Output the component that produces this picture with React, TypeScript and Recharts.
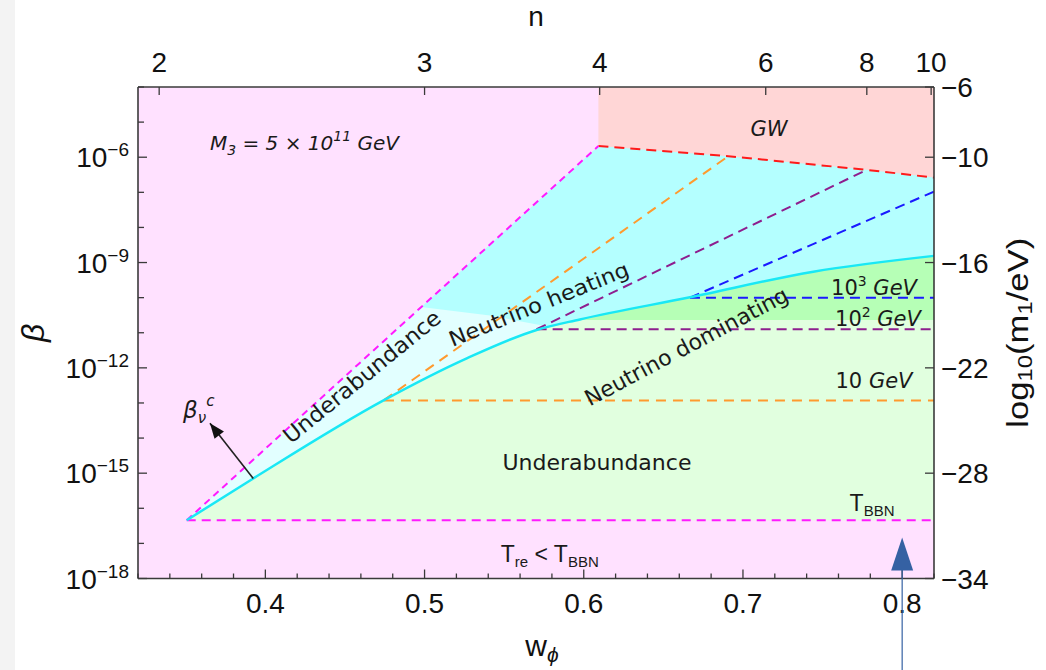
import React from 'react';
import { ComposedChart, Area, Line, XAxis, YAxis, ReferenceDot } from 'recharts';

// ---------- axis ticks ----------
const wMajorTicks = [0.4, 0.5, 0.6, 0.7, 0.8];
const wAllTicks = [0.32, 0.34, 0.36, 0.38, 0.4, 0.42, 0.44, 0.46, 0.48, 0.5, 0.52, 0.54, 0.56, 0.58, 0.6, 0.62, 0.64, 0.66, 0.68, 0.7, 0.72, 0.74, 0.76, 0.78, 0.8, 0.82];
const nLabels = ['2', '3', '4', '6', '8', '10'];
const nTickW = [0.3333, 0.5, 0.61, 0.7143, 0.7778, 0.8182];
const betaAllTicks = [-18, -17, -16, -15, -14, -13, -12, -11, -10, -9, -8, -7, -6, -5, -4];
const betaMajorTicks = [-18, -15, -12, -9, -6];
const m1Ticks = [-34, -28, -22, -16, -10, -6];

// ---------- regions & curves (w, log10 beta) ----------
const frameTop = [{ w: 0.32, L: -4 }, { w: 0.82, L: -4 }];
const gwRegion = [{ w: 0.6092, L: -4 }, { w: 0.82, L: -4 }];
const magentaDiag = [{ w: 0.3506, L: -16.34 }, { w: 0.6092, L: -5.68 }];
const gwBoundary = [{ w: 0.6092, L: -5.68 }, { w: 0.6908, L: -5.97 }, { w: 0.7777, L: -6.36 }, { w: 0.82, L: -6.58 }];
const cyanEnvelope = [...magentaDiag, ...gwBoundary.slice(1)];
const cyanCurve = [
  { w: 0.3506, L: -16.34 }, { w: 0.3924, L: -15.15 }, { w: 0.4745, L: -12.92 }, { w: 0.5265, L: -11.73 },
  { w: 0.5704, L: -10.92 }, { w: 0.5976, L: -10.62 }, { w: 0.6667, L: -9.99 }, { w: 0.7442, L: -9.26 },
  { w: 0.82, L: -8.81 },
];
const paleUpper = [{ w: 0.3506, L: -16.34 }, { w: 0.4978, L: -10.27 }, { w: 0.5411, L: -10.51 }, { w: 0.5757, L: -10.81 }];
const lightGreenUpper = [...cyanCurve.slice(0, 5), { w: 0.5976, L: -10.64 }, { w: 0.82, L: -10.64 }];
const belowTbbn = [{ w: 0.32, L: -16.34 }, { w: 0.82, L: -16.34 }];
const tbbnLine = [{ w: 0.3506, L: -16.34 }, { w: 0.82, L: -16.34 }];
const orangeDiag = [{ w: 0.4745, L: -12.92 }, { w: 0.6908, L: -5.97 }];
const orangeFlat = [{ w: 0.4745, L: -12.93 }, { w: 0.82, L: -12.93 }];
const purpleDiag = [{ w: 0.5704, L: -10.9 }, { w: 0.7777, L: -6.36 }];
const purpleFlat = [{ w: 0.5704, L: -10.9 }, { w: 0.82, L: -10.9 }];
const blueDiag = [{ w: 0.6667, L: -10.0 }, { w: 0.82, L: -6.98 }];
const blueFlat = [{ w: 0.6667, L: -10.0 }, { w: 0.82, L: -10.0 }];
const betaNuArrow = [{ w: 0.3924, L: -15.15 }, { w: 0.3652, L: -13.58 }];

// ---------- styles ----------
const TICK_FONT = "'Liberation Sans', Arial, sans-serif";
const NOTE_FONT = "'DejaVu Sans', sans-serif";
const FRAME = '#3a3a3a';
const INK = '#1a1a1a';

const near = (a: number, b: number) => Math.abs(a - b) < 1e-6;

function LeftTick(props: any) {
  const { x, y, payload } = props;
  const v = Number(payload.value);
  const major = betaMajorTicks.includes(v);
  return (
    <g>
      <line x1={x} y1={y} x2={x + (major ? 9 : 6)} y2={y} stroke={FRAME} strokeWidth={1.3} />
      {major && (
        <text x={x - 9} y={y + 10} textAnchor="end" fontFamily={TICK_FONT} fontSize={28} fill="#111">
          10<tspan dy={-11} fontSize={19}>{'\u2212' + Math.abs(v)}</tspan>
        </text>
      )}
    </g>
  );
}

function RightTick(props: any) {
  const { x, y, payload } = props;
  const v = Number(payload.value);
  return (
    <g>
      <line x1={x} y1={y} x2={x - 9} y2={y} stroke={FRAME} strokeWidth={1.3} />
      <text x={x + 7} y={y + 10} textAnchor="start" fontFamily={TICK_FONT} fontSize={28} fill="#111">
        {'\u2212' + Math.abs(v)}
      </text>
    </g>
  );
}

function BottomTick(props: any) {
  const { x, y, payload } = props;
  const v = Number(payload.value);
  const major = wMajorTicks.some((t) => near(t, v));
  return (
    <g>
      <line x1={x} y1={y} x2={x} y2={y - (major ? 9 : 5)} stroke={FRAME} strokeWidth={1.3} />
      {major && (
        <text x={x} y={y + 34} textAnchor="middle" fontFamily={TICK_FONT} fontSize={28} fill="#111">
          {v.toFixed(1)}
        </text>
      )}
      {near(v, 0.8) && (
        <g>
          <line x1={x} y1={y - 9} x2={x} y2={y + 95} stroke="#3561A3" strokeWidth={1.2} />
          <path d={`M${x},${y - 41} L${x + 11},${y - 8} L${x - 11},${y - 8} Z`} fill="#3561A3" />
        </g>
      )}
    </g>
  );
}

function TopTick(props: any) {
  const { x, y, payload } = props;
  const v = Number(payload.value);
  const idx = nTickW.findIndex((t) => near(t, v));
  return (
    <g>
      <line x1={x} y1={y} x2={x} y2={y + 8} stroke={FRAME} strokeWidth={1.3} />
      <text x={x} y={y - 15} textAnchor="middle" fontFamily={TICK_FONT} fontSize={28} fill="#111">
        {idx >= 0 ? nLabels[idx] : ''}
      </text>
    </g>
  );
}

const arrowDot = (color: string, len: number, half: number) => (props: any) => {
  const { index, cx, cy, points } = props;
  if (index !== 1 || !points || points.length < 2) return <g key={`ad-${index}`} />;
  const p0 = points[0];
  const ang = Math.atan2(cy - p0.y, cx - p0.x);
  const bx = cx - len * Math.cos(ang);
  const by = cy - len * Math.sin(ang);
  const nx = -Math.sin(ang) * half;
  const ny = Math.cos(ang) * half;
  return <path key={`ad-${index}`} d={`M${cx},${cy} L${bx + nx},${by + ny} L${bx - nx},${by - ny} Z`} fill={color} />;
};

const note = (key: string, w: number, L: number, render: (cx: number, cy: number) => React.ReactElement) => (
  <ReferenceDot
    key={key}
    xAxisId="bottom"
    yAxisId="left"
    x={w}
    y={L}
    r={0}
    ifOverflow="visible"
    shape={(p: any) => render(p.cx, p.cy)}
  />
);

const fillArea = (key: string, data: any[], color: string, type: 'linear' | 'monotone' = 'linear') => (
  <Area
    key={key}
    xAxisId="bottom"
    yAxisId="left"
    data={data}
    dataKey="L"
    type={type}
    baseValue={-18}
    fill={color}
    fillOpacity={1}
    stroke="none"
    isAnimationActive={false}
    activeDot={false}
    legendType="none"
  />
);

const dashLine = (key: string, data: any[], color: string, dash = '9 6', width = 2) => (
  <Line
    key={key}
    xAxisId="bottom"
    yAxisId="left"
    data={data}
    dataKey="L"
    type="linear"
    stroke={color}
    strokeWidth={width}
    strokeDasharray={dash}
    dot={false}
    activeDot={false}
    isAnimationActive={false}
    legendType="none"
  />
);

export default function App() {
  return (
    <div style={{ position: 'fixed', left: 0, top: 0, width: 1046, height: 670, background: '#ffffff' }}>
      <div style={{ position: 'absolute', left: 0, top: 0, width: 15, height: 670, background: '#F3F3F3' }} />
      <div style={{ position: 'absolute', left: 0, top: 0 }}>
        <ComposedChart width={1046} height={670} margin={{ top: 37, right: 12, bottom: 41.5, left: 38 }}>
          <XAxis
            xAxisId="bottom"
            type="number"
            dataKey="w"
            domain={[0.32, 0.82]}
            ticks={wAllTicks}
            interval={0}
            allowDataOverflow
            tickSize={0}
            tickMargin={0}
            height={50}
            tickLine={false}
            axisLine={{ stroke: FRAME, strokeWidth: 1.6 }}
            tick={<BottomTick />}
            label={{
              content: (p: any) => {
                const vb = p.viewBox || { x: 138, y: 578.5, width: 796 };
                return (
                  <text x={vb.x + vb.width / 2 + 6} y={vb.y + 77} textAnchor="middle" fontFamily={TICK_FONT} fontSize={30} fill="#111">
                    w<tspan dy={6} fontSize={21} fontStyle="italic">{'\u03D5'}</tspan>
                  </text>
                );
              },
            }}
          />
          <XAxis
            xAxisId="top"
            orientation="top"
            type="number"
            dataKey="w"
            domain={[0.32, 0.82]}
            ticks={nTickW}
            interval={0}
            allowDataOverflow
            tickSize={0}
            tickMargin={0}
            height={50}
            tickLine={false}
            axisLine={{ stroke: FRAME, strokeWidth: 1.6 }}
            tick={<TopTick />}
            label={{
              content: (p: any) => {
                const vb = p.viewBox || { x: 138, y: 37, width: 796 };
                return (
                  <text x={vb.x + vb.width / 2} y={vb.y - 11} textAnchor="middle" fontFamily={TICK_FONT} fontSize={28} fill="#111">
                    n
                  </text>
                );
              },
            }}
          />
          <YAxis
            yAxisId="left"
            type="number"
            domain={[-18, -4]}
            ticks={betaAllTicks}
            interval={0}
            allowDataOverflow
            width={100}
            tickSize={0}
            tickMargin={0}
            tickLine={false}
            axisLine={{ stroke: FRAME, strokeWidth: 1.6 }}
            tick={<LeftTick />}
            label={{
              content: (p: any) => {
                const vb = p.viewBox || { x: 38, y: 87, height: 491.5 };
                const cx = vb.x - 5;
                const cy = vb.y + vb.height / 2;
                return (
                  <text x={cx} y={cy} transform={`rotate(-90 ${cx} ${cy})`} textAnchor="middle" dominantBaseline="central" fontFamily={TICK_FONT} fontSize={32} fontStyle="italic" fill="#111">
                    {'\u03B2'}
                  </text>
                );
              },
            }}
          />
          <YAxis
            yAxisId="right"
            orientation="right"
            type="number"
            domain={[-34, -6]}
            ticks={m1Ticks}
            interval={0}
            allowDataOverflow
            width={100}
            tickSize={0}
            tickMargin={0}
            tickLine={false}
            axisLine={{ stroke: FRAME, strokeWidth: 1.6 }}
            tick={<RightTick />}
            label={{
              content: (p: any) => {
                const vb = p.viewBox || { x: 934, y: 87, height: 491.5 };
                const cx = vb.x + 84;
                const cy = vb.y + vb.height / 2;
                return (
                  <text x={cx} y={cy} transform={`rotate(-90 ${cx} ${cy})`} textAnchor="middle" dominantBaseline="central" fontFamily={TICK_FONT} fontSize={29} fill="#111" textLength={190} lengthAdjust="spacingAndGlyphs">
                    log<tspan dy={7} fontSize={20}>10</tspan><tspan dy={-7}>(m</tspan><tspan dy={7} fontSize={20}>1</tspan><tspan dy={-7}>/eV)</tspan>
                  </text>
                );
              },
            }}
          />

          {fillArea('bg', frameTop, '#FFE1FF')}
          {fillArea('gw', gwRegion, '#FFD6D6')}
          {fillArea('cyan', cyanEnvelope, '#B4FFFF')}
          {fillArea('pale', paleUpper, '#E2FFFF')}
          {fillArea('dkgreen', cyanCurve, '#B6FFB6', 'monotone')}
          {fillArea('ltgreen', lightGreenUpper, '#E1FFDF', 'monotone')}
          {fillArea('bbn', belowTbbn, '#FFE1FF')}

          {dashLine('red', gwBoundary, '#FF1A1A', '10 6')}
          {dashLine('mag', magentaDiag, '#FF1AFF', '7 5')}
          {dashLine('tbbn', tbbnLine, '#FF1AFF', '9 6')}
          {dashLine('orD', orangeDiag, '#FF9A2E', '10 7')}
          {dashLine('orF', orangeFlat, '#FF9A2E', '10 7')}
          {dashLine('puD', purpleDiag, '#8E1E8E', '10 6')}
          {dashLine('puF', purpleFlat, '#8E1E8E', '10 6')}
          {dashLine('blD', blueDiag, '#1A1AFF', '10 6')}
          {dashLine('blF', blueFlat, '#1A1AFF', '10 6')}
          <Line
            xAxisId="bottom"
            yAxisId="left"
            data={cyanCurve}
            dataKey="L"
            type="monotone"
            stroke="#19E8F5"
            strokeWidth={2.5}
            dot={false}
            activeDot={false}
            isAnimationActive={false}
            legendType="none"
          />
          <Line
            xAxisId="bottom"
            yAxisId="left"
            data={betaNuArrow}
            dataKey="L"
            type="linear"
            stroke="#222"
            strokeWidth={1.6}
            dot={arrowDot('#111', 15, 6)}
            activeDot={false}
            isAnimationActive={false}
            legendType="none"
          />

          {note('m3', 0.3652, -5.795, (cx, cy) => (
            <text x={cx} y={cy} fontFamily={NOTE_FONT} fontStyle="italic" fontSize={20} fill={INK}>
              M<tspan dy={5} fontSize={14}>3</tspan><tspan dy={-5}>{' = 5 \u00D7 10'}</tspan><tspan dy={-9} fontSize={14}>11</tspan><tspan dy={9}>{' GeV'}</tspan>
            </text>
          ))}
          {note('gw', 0.7164, -5.4, (cx, cy) => (
            <text x={cx} y={cy} textAnchor="middle" fontFamily={NOTE_FONT} fontStyle="italic" fontSize={21} fill={INK}>GW</text>
          ))}
          {note('under1', 0.4637, -12.42, (cx, cy) => (
            <text x={cx} y={cy} transform={`rotate(-39.2 ${cx} ${cy})`} textAnchor="middle" fontFamily={NOTE_FONT} fontSize={22} fill={INK} textLength={196} lengthAdjust="spacingAndGlyphs">Underabundance</text>
          ))}
          {note('heat', 0.5735, -10.38, (cx, cy) => (
            <text x={cx} y={cy} transform={`rotate(-22 ${cx} ${cy})`} textAnchor="middle" fontFamily={NOTE_FONT} fontSize={21} fill={INK} textLength={192} lengthAdjust="spacingAndGlyphs">Neutrino heating</text>
          ))}
          {note('dom', 0.6667, -11.58, (cx, cy) => (
            <text x={cx} y={cy} transform={`rotate(-28 ${cx} ${cy})`} textAnchor="middle" fontFamily={NOTE_FONT} fontSize={22} fill={INK} textLength={227} lengthAdjust="spacingAndGlyphs">Neutrino dominating</text>
          ))}
          {note('g3', 0.7823, -9.93, (cx, cy) => (
            <text x={cx} y={cy} textAnchor="middle" fontFamily={NOTE_FONT} fontSize={21} fill={INK}>
              10<tspan dy={-9} fontSize={14}>3</tspan><tspan dy={9} fontStyle="italic">{' GeV'}</tspan>
            </text>
          ))}
          {note('g2', 0.7848, -10.81, (cx, cy) => (
            <text x={cx} y={cy} textAnchor="middle" fontFamily={NOTE_FONT} fontSize={21} fill={INK}>
              10<tspan dy={-9} fontSize={14}>2</tspan><tspan dy={9} fontStyle="italic">{' GeV'}</tspan>
            </text>
          ))}
          {note('g1', 0.7823, -12.56, (cx, cy) => (
            <text x={cx} y={cy} textAnchor="middle" fontFamily={NOTE_FONT} fontSize={21} fill={INK}>
              10<tspan fontStyle="italic">{' GeV'}</tspan>
            </text>
          ))}
          {note('under2', 0.6083, -14.91, (cx, cy) => (
            <text x={cx} y={cy} textAnchor="middle" fontFamily={NOTE_FONT} fontSize={22} fill={INK}>Underabundance</text>
          ))}
          {note('tbbn', 0.7811, -16.08, (cx, cy) => (
            <text x={cx} y={cy} textAnchor="middle" fontFamily={TICK_FONT} fontSize={23} fill={INK}>
              T<tspan dy={5} fontSize={15}>BBN</tspan>
            </text>
          ))}
          {note('tre', 0.5786, -17.53, (cx, cy) => (
            <text x={cx} y={cy} textAnchor="middle" fontFamily={TICK_FONT} fontSize={23} fill={INK}>
              T<tspan dy={5} fontSize={15}>re</tspan><tspan dy={-5}>{' < T'}</tspan><tspan dy={5} fontSize={15}>BBN</tspan>
            </text>
          ))}
          {note('bnu', 0.3483, -13.43, (cx, cy) => (
            <text x={cx} y={cy} fontFamily={NOTE_FONT} fontStyle="italic" fontSize={23} fill={INK}>
              {'\u03B2'}<tspan dy={5} fontSize={15}>{'\u03BD'}</tspan><tspan dy={-17} fontSize={15}>c</tspan>
            </text>
          ))}
        </ComposedChart>
      </div>
    </div>
  );
}
